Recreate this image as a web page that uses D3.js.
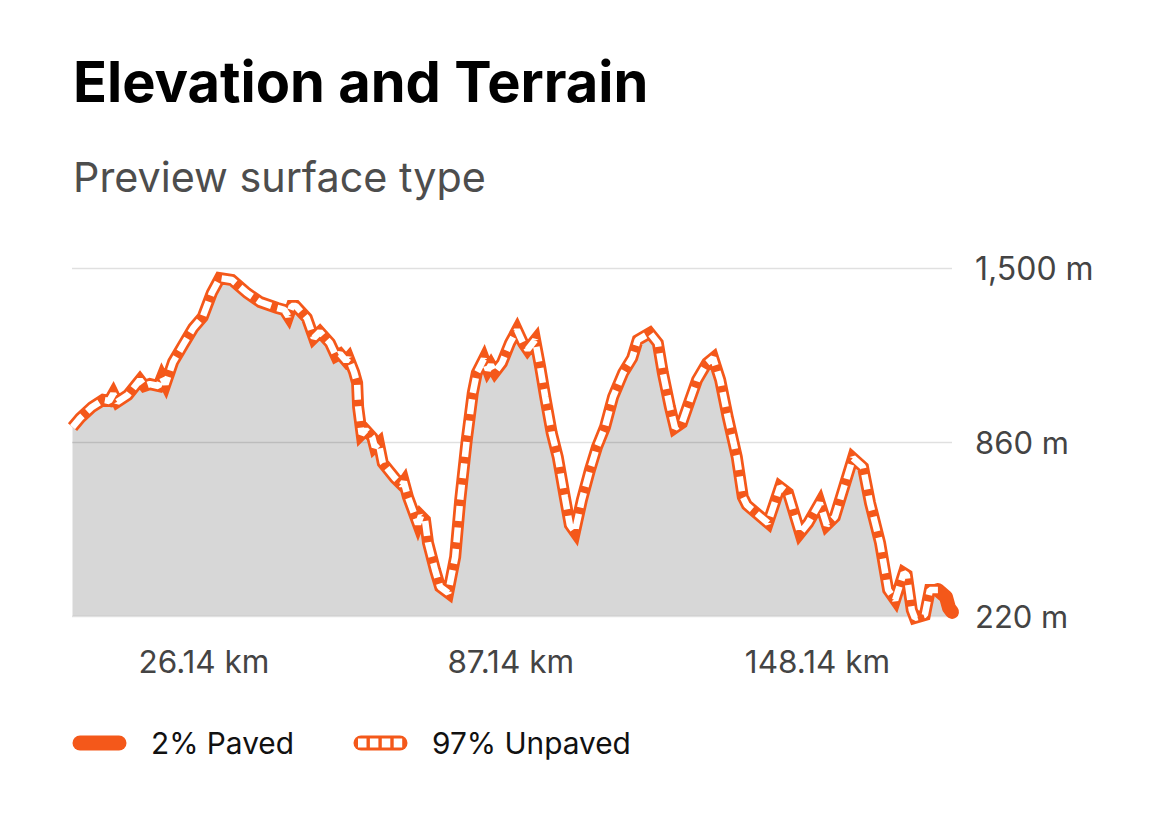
<!DOCTYPE html>
<meta charset="utf-8">
<script src="https://d3js.org/d3.v7.min.js"></script>
<style>
  body { margin: 0; background: #fff; }
  text { font-family: "Inter", "Roboto", sans-serif; }
</style>
<div id="my_dataviz"></div>
<script>
  // distance along the route (km) and elevation (m)
  var km = [0.1, 1.6, 4.0, 6.2, 7.4, 8.2, 9.0, 11.1, 13.5, 14.4, 15.5, 17.2, 17.9, 18.6, 20.1, 22.1, 24.1, 26.0, 27.8, 29.4, 31.8, 34.8, 37.4, 40.8, 42.2, 43.0, 43.7, 44.5,
    46.7, 48.1, 49.3, 51.3, 52.5, 53.3, 54.5, 55.0, 56.1, 56.7, 56.9, 57.6, 58.4, 59.7, 60.2, 61.0, 61.8, 64.2, 65.6, 66.0, 66.8, 68.8, 69.4, 70.2, 70.8, 72.2, 73.2, 74.8, 76.2, 77.2,
    78.5, 79.7, 80.5, 81.9, 82.7, 83.3, 84.1, 85.5, 87.1, 88.5, 89.7, 90.6, 92.1, 93.1, 94.1, 95.4, 96.6, 98.0, 99.0, 100.0, 101.4, 103.0, 104.4,
    106.0, 107.6, 109.6, 111.4, 112.5, 114.9, 116.5, 117.5, 118.9, 119.9, 121.3, 122.9, 124.3, 126.3, 127.5, 128.9, 130.4, 132.2, 133.4, 134.2,
    138.4, 140.8, 142.4, 144.8, 146.4, 148.7, 150.1, 151.7, 155.3, 157.3, 158.7, 160.7, 162.3, 163.7, 165.4, 166.0, 167.0, 167.6, 169.6, 170.6, 172.2, 173.8, 174.4, 175];
  var elevation = [915, 948, 989, 1015, 1011, 1037, 1007, 1033, 1088, 1066, 1073, 1066, 1099, 1073, 1154, 1217, 1279, 1320, 1408, 1463, 1456, 1408, 1375, 1353, 1346, 1323, 1360, 1360,
    1316, 1243, 1265, 1224, 1176, 1184, 1158, 1169, 1117, 1077, 989, 889, 904, 878, 842, 856, 783, 728, 702, 713, 658, 558, 588, 573, 489, 389, 327, 305, 437, 647,
    867, 1040, 1114, 1165, 1125, 1143, 1117, 1151, 1224, 1272, 1224, 1200, 1235, 1136, 1026, 893, 805, 658, 555, 529, 647, 757, 842,
    915, 1026, 1114, 1169, 1235, 1261, 1224, 1114, 989, 912, 930, 1015, 1088, 1151, 1169, 1088, 952, 805, 658, 628,
    562, 695, 672, 525, 562, 636, 555, 584, 801, 768, 636, 489, 316, 279, 378, 371, 242, 213, 224, 316, 316, 290, 250, 235];

  var kmTicks = [26.14, 87.14, 148.14];
  var elevationTicks = [220, 860, 1500];
  var pavedStartKm = 172.2;

  var legendLabels = ["2% Paved", "97% Unpaved"];
  var orange = "#f4581a";

  var route = km.map(function(d, i) { return {km: d, m: elevation[i]}; });

  var svg = d3.select("#my_dataviz")
    .append("svg")
      .attr("width", 1170)
      .attr("height", 828)
      .style("display", "block");

  svg.append("text").attr("x", 73).attr("y", 102)
    .attr("font-size", 56).attr("font-weight", 700).attr("fill", "#000")
    .text("Elevation and Terrain");
  svg.append("text").attr("x", 73).attr("y", 192)
    .attr("font-size", 41.3).attr("fill", "#4d4d4d")
    .text("Preview surface type");

  var x = d3.scaleLinear().domain([0, 175]).range([72, 952]);
  var y = d3.scaleLinear().domain([220, 1500]).range([616, 268]);

  // grey area under the profile
  svg.append("path")
    .datum(route)
    .attr("fill", "#d7d7d7")
    .attr("d", d3.area()
      .x(function(d) { return x(d.km); })
      .y0(y(220))
      .y1(function(d) { return y(Math.max(d.m, 220)); }));

  // gridlines and elevation labels
  var yAxis = svg.append("g")
    .attr("transform", "translate(952,0)")
    .call(d3.axisRight(y).tickValues(elevationTicks)
      .tickSize(-880).tickPadding(23)
      .tickFormat(function(d) { return d3.format(",")(d) + " m"; }));
  yAxis.select(".domain").remove();
  yAxis.selectAll("line").attr("stroke", "#000").attr("stroke-opacity", 0.12).attr("stroke-width", 1.5);
  yAxis.selectAll("text").attr("font-size", 32).attr("fill", "#444").attr("font-family", "Inter").attr("dy", "0.36em");
  yAxis.selectAll("text").filter(function(d) { return d != 1500; }).attr("font-size", 31);

  var xAxis = svg.append("g")
    .attr("transform", "translate(0,616)")
    .call(d3.axisBottom(x).tickValues(kmTicks)
      .tickSize(0).tickPadding(35)
      .tickFormat(function(d) { return d3.format(".2f")(d) + " km"; }));
  xAxis.select(".domain").remove();
  xAxis.selectAll("text").attr("font-size", 31.5).attr("fill", "#444").attr("font-family", "Inter");

  var line = d3.line()
    .x(function(d) { return x(d.km); })
    .y(function(d) { return y(d.m); });

  // orange casing with white dashes on the unpaved part
  svg.append("path")
    .datum(route)
    .attr("fill", "none")
    .attr("stroke", orange)
    .attr("stroke-width", 12)
    .attr("stroke-linejoin", "miter")
    .attr("stroke-miterlimit", 5)
    .attr("d", line);

  svg.append("path")
    .datum(route.filter(function(d) { return d.km >= pavedStartKm; }))
    .attr("fill", "none")
    .attr("stroke", orange)
    .attr("stroke-width", 14)
    .attr("stroke-linecap", "round")
    .attr("stroke-linejoin", "round")
    .attr("d", line);

  svg.append("path")
    .datum(route.filter(function(d) { return d.km <= pavedStartKm; }))
    .attr("fill", "none")
    .attr("stroke", "#fff")
    .attr("stroke-width", 6.5)
    .attr("stroke-linejoin", "bevel")
    .attr("stroke-dasharray", "15 6.5")
    .attr("d", line);

  // legend
  var legendX = [73, 354];
  var legend = svg.selectAll(".legend")
    .data(legendLabels)
    .enter()
    .append("g")
      .attr("class", "legend")
      .attr("transform", function(d, i) { return "translate(" + legendX[i] + ",743)"; });

  legend.append("line")
    .attr("x1", 7).attr("x2", 46)
    .attr("stroke", orange)
    .attr("stroke-width", 15)
    .attr("stroke-linecap", "round");

  legend.filter(function(d, i) { return i == 1; })
    .append("line")
    .attr("x1", 4).attr("x2", 48.5)
    .attr("stroke", "#fff")
    .attr("stroke-width", 9)
    .attr("stroke-dasharray", "8.5 3.4");

  legend.append("text")
    .attr("x", 78).attr("y", 11)
    .attr("font-size", 29.8).attr("fill", "#111")
    .text(function(d) { return d; });
</script>
